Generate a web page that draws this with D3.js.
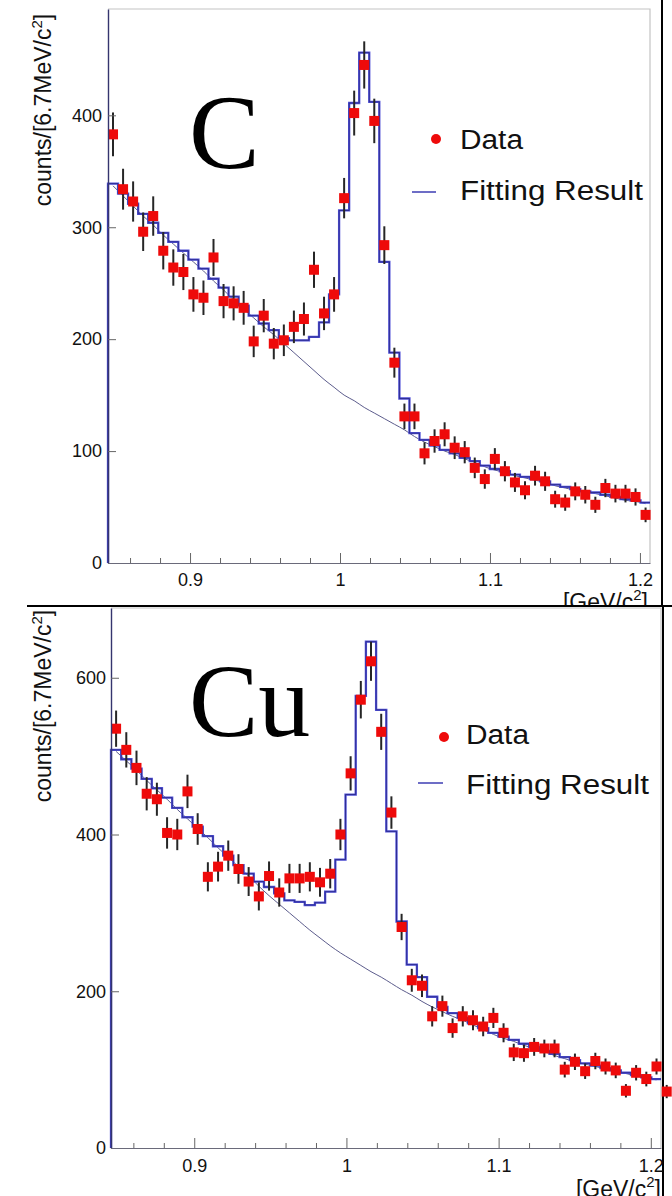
<!DOCTYPE html>
<html>
<head>
<meta charset="utf-8">
<script src="https://cdn.jsdelivr.net/npm/d3@7"></script>
<style>
  html, body { margin: 0; padding: 0; background: #fff; }
  svg { display: block; }
  text { font-family: "Liberation Sans", Arial, Helvetica, sans-serif; fill: #111; }
  text.target { font-family: "Liberation Serif", "DejaVu Serif", Times, serif; fill: #000; }
</style>
</head>
<body>
<svg id="chart" width="672" height="1196"></svg>
<script>
// Invariant-mass histograms (K+K- pairs), 6.7 MeV/c^2 bins
const massMin = 0.8453;
const massMax = 1.2067;
const binWidth = 0.0067;

const xMajorTicks = [0.9, 1.0, 1.1, 1.2];
const xTickLabels = ["0.9", "1", "1.1", "1.2"];
const xMinorTicks = [0.86, 0.88, 0.92, 0.94, 0.96, 0.98, 1.02, 1.04, 1.06, 1.08, 1.12, 1.14, 1.16, 1.18];

// Carbon target
const cTicks = [0, 100, 200, 300, 400];
const cCounts = [383, 334, 323, 296, 310, 279, 264, 260, 240, 237, 273, 234, 232, 228, 198, 221, 196, 199, 211, 218,
                 262, 223, 240, 326, 402, 445, 395, 284, 179, 131, 131, 98, 109, 115, 103, 99, 85, 75, 93, 82,
                 72, 65, 78, 73, 57, 54, 64, 61, 52, 67, 62, 62, 59, 43];
const cFit = [339, 330, 321, 312, 304, 295, 287, 279, 271, 263, 254, 246, 238, 230, 221, 214, 208, 201, 199, 199,
              202, 215, 240, 315, 411, 456, 412, 269, 188, 147, 116, 110, 105, 101, 98, 94, 91, 87, 84, 82,
              79, 77, 75, 73, 70, 68, 66, 64, 63, 61, 59, 57, 56, 54];
const cBkg = [337, 328, 319, 310, 302, 293, 285, 277, 269, 261, 252, 244, 235, 227, 219, 211, 204, 196, 188, 180,
              172, 164, 157, 150, 145, 139, 134, 129, 124, 119, 113, 108, 104, 100, 97, 93, 90, 86, 83, 81,
              78, 76, 74, 72, 69, 67, 65, 63, 62, 60, 58, 56, 55, 53];

// Copper target
const cuTicks = [0, 200, 400, 600];
const cuCounts = [535, 508, 485, 452, 445, 402, 400, 455, 407, 346, 359, 373, 356, 340, 321, 347, 326, 344, 344, 346,
                  339, 350, 400, 478, 572, 621, 531, 428, 282, 214, 207, 168, 181, 153, 168, 163, 155, 166, 147, 122,
                  121, 129, 127, 127, 100, 110, 98, 111, 104, 99, 73, 96, 88, 104, 72];
const cuFit = [508, 496, 484, 471, 459, 447, 434, 422, 410, 398, 385, 373, 361, 350, 340, 333, 325, 316, 314, 310,
               313, 327, 368, 451, 577, 646, 559, 404, 289, 234, 218, 193, 180, 172, 166, 159, 153, 147, 142, 138,
               133, 129, 124, 120, 116, 112, 108, 105, 102, 99, 96, 93, 90, 88];
const cuBkg = [506, 494, 482, 469, 457, 445, 432, 420, 408, 396, 383, 371, 359, 347, 334, 322, 311, 300, 289, 278,
               268, 258, 249, 241, 233, 225, 218, 210, 202, 195, 187, 180, 174, 168, 163, 157, 151, 145, 140, 136,
               131, 127, 123, 118, 114, 110, 107, 104, 101, 98, 95, 92, 89, 87];

const legendLabels = ["Data", "Fitting Result"];

const panels = [
  { label: "C",  counts: cCounts,  fit: cFit,  bkg: cBkg,  yMax: 495, yTicks: cTicks,
    left: 108, right: 650, top: 9, bottom: 563, yPad: 6, xPad: 10,
    labelX: 189, labelY: 168, labelSize: 106,
    legX: 460, dataY: 149, fitY: 200, markX: 436, markY: 139, lineX0: 412, lineX1: 436, lineY: 192,
    ytitleX: 51, ytitleY: 110, xtitleY: 610, xtitleX: 648 },
  { label: "Cu", counts: cuCounts, fit: cuFit, bkg: cuBkg, yMax: 689, yTicks: cuTicks,
    left: 111, right: 661, top: 608, bottom: 1148, yPad: 5, xPad: 11,
    labelX: 189, labelY: 736, labelSize: 104,
    legX: 466, dataY: 744, fitY: 794, markX: 444, markY: 737, lineX0: 418, lineX1: 443, lineY: 783,
    ytitleX: 51, ytitleY: 706, xtitleY: 1197, xtitleX: 661 }
];

const svg = d3.select("#chart");
svg.append("rect").attr("width", 672).attr("height", 1196).attr("fill", "#fff");

function drawPanel(p, i) {
  const g = svg.append("g");

  if (i === 1) {
    // second plot sheet laid over the first one
    g.append("rect").attr("x", 27).attr("y", 606).attr("width", 645).attr("height", 590).attr("fill", "#fff");
    g.append("line").attr("x1", 27).attr("x2", 672).attr("y1", 606).attr("y2", 606)
      .attr("stroke", "#000").attr("stroke-width", 2);
    g.append("line").attr("x1", 663).attr("x2", 663).attr("y1", 606).attr("y2", 1196)
      .attr("stroke", "#000").attr("stroke-width", 2);
  } else {
    g.append("line").attr("x1", 662).attr("x2", 662).attr("y1", 0).attr("y2", 606)
      .attr("stroke", "#000").attr("stroke-width", 2);
  }

  const x = d3.scaleLinear().domain([massMin, massMax]).range([p.left, p.right]);
  const y = d3.scaleLinear().domain([0, p.yMax]).range([p.bottom, p.top]);

  // frame (top and right edges)
  g.append("path")
    .attr("d", `M${p.left},${p.top}H${p.right}V${p.bottom}`)
    .attr("fill", "none").attr("stroke", "#c4c4c4").attr("stroke-width", 1.2);

  const clipId = "clip" + i;
  g.append("clipPath").attr("id", clipId)
    .append("rect").attr("x", p.left - 2).attr("y", p.top).attr("width", p.right - p.left + 2).attr("height", p.bottom - p.top + 1);

  // background component of the fit (smooth curve)
  const bkgLine = d3.line()
    .x((d, k) => x(massMin + binWidth * (k + 0.5)))
    .y(d => y(d))
    .curve(d3.curveMonotoneX);
  g.append("path").attr("d", bkgLine(p.bkg))
    .attr("clip-path", `url(#${clipId})`)
    .attr("fill", "none").attr("stroke", "#5c5c8c").attr("stroke-width", 1);

  // total fit drawn as a binned step histogram
  const stepPts = [[massMin, 0]];
  p.fit.forEach((v, k) => stepPts.push([massMin + binWidth * k, v]));
  stepPts.push([massMin + binWidth * p.fit.length, p.fit[p.fit.length - 1]]);
  const stepLine = d3.line().x(d => x(d[0])).y(d => y(d[1])).curve(d3.curveStepAfter);
  g.append("path").attr("d", stepLine(stepPts))
    .attr("clip-path", `url(#${clipId})`)
    .attr("fill", "none").attr("stroke", "#5050d6").attr("stroke-width", 2.3);
  g.append("path").attr("d", stepLine(stepPts))
    .attr("clip-path", `url(#${clipId})`)
    .attr("fill", "none").attr("stroke", "#262684").attr("stroke-width", 0.8);

  // data points with Poisson error bars
  const pts = p.counts.map((v, k) => ({ m: massMin + binWidth * (k + 0.5), v: v, e: Math.sqrt(v) }));
  g.append("g").selectAll("line").data(pts).join("line")
    .attr("x1", d => x(d.m)).attr("x2", d => x(d.m))
    .attr("y1", d => y(d.v - d.e)).attr("y2", d => y(d.v + d.e))
    .attr("stroke", "#262626").attr("stroke-width", 2);
  g.append("g").selectAll("rect").data(pts).join("rect")
    .attr("x", d => x(d.m) - 5).attr("y", d => y(d.v) - 5)
    .attr("width", 10).attr("height", 10)
    .attr("fill", "#ee0a0a");

  // axes
  const yAxis = d3.axisLeft(y).tickValues(p.yTicks).tickSize(-8).tickSizeOuter(0).tickPadding(p.yPad)
    .tickFormat(d3.format("d"));
  const ya = g.append("g").attr("transform", `translate(${p.left},0)`).call(yAxis);
  ya.select(".domain").attr("stroke", "#35356e").attr("stroke-width", 1.4);
  ya.selectAll(".tick line").attr("stroke", "#666").attr("stroke-width", 1);
  ya.selectAll(".tick text").attr("font-size", 18).attr("fill", "#1a1a1a");

  const xMinor = d3.axisBottom(x).tickValues(xMinorTicks).tickSize(-5).tickSizeOuter(0).tickFormat("");
  const xm = g.append("g").attr("transform", `translate(0,${p.bottom})`).call(xMinor);
  xm.select(".domain").remove();
  xm.selectAll(".tick line").attr("stroke", "#666");

  const xAxis = d3.axisBottom(x).tickValues(xMajorTicks).tickSize(-10).tickSizeOuter(0).tickPadding(p.xPad)
    .tickFormat((d, k) => xTickLabels[k]);
  const xa = g.append("g").attr("transform", `translate(0,${p.bottom})`).call(xAxis);
  xa.select(".domain").attr("stroke", "#6a6a7a").attr("stroke-width", 1.2);
  xa.selectAll(".tick line").attr("stroke", "#666");
  xa.selectAll(".tick text").attr("font-size", 18).attr("fill", "#1a1a1a");

  // axis titles
  const yt = g.append("text")
    .attr("transform", `translate(${p.ytitleX},${p.ytitleY}) rotate(-90)`)
    .attr("text-anchor", "middle").attr("font-size", 23);
  yt.append("tspan").text("counts/[6.7MeV/c");
  yt.append("tspan").attr("dy", -9).attr("font-size", 15).text("2");
  yt.append("tspan").attr("dy", 9).text("]");

  const xt = g.append("text")
    .attr("x", p.xtitleX).attr("y", p.xtitleY)
    .attr("text-anchor", "end").attr("font-size", 23);
  xt.append("tspan").text("[GeV/c");
  xt.append("tspan").attr("dy", -10).attr("font-size", 15).text("2");
  xt.append("tspan").attr("dy", 10).text("]");

  // target label
  g.append("text").attr("class", "target").attr("x", p.labelX).attr("y", p.labelY)
    .attr("font-size", p.labelSize)
    .text(p.label);

  // legend
  g.append("circle").attr("cx", p.markX).attr("cy", p.markY).attr("r", 5).attr("fill", "#ee0a0a");
  g.append("text").attr("x", p.legX).attr("y", p.dataY).attr("font-size", 27)
    .attr("textLength", 63).attr("lengthAdjust", "spacingAndGlyphs").text(legendLabels[0]);
  g.append("line").attr("x1", p.lineX0).attr("x2", p.lineX1).attr("y1", p.lineY).attr("y2", p.lineY)
    .attr("stroke", "#6d6dc6").attr("stroke-width", 2);
  g.append("text").attr("x", p.legX).attr("y", p.fitY).attr("font-size", 27)
    .attr("textLength", 183).attr("lengthAdjust", "spacingAndGlyphs").text(legendLabels[1]);
}

panels.forEach(drawPanel);
</script>
</body>
</html>
